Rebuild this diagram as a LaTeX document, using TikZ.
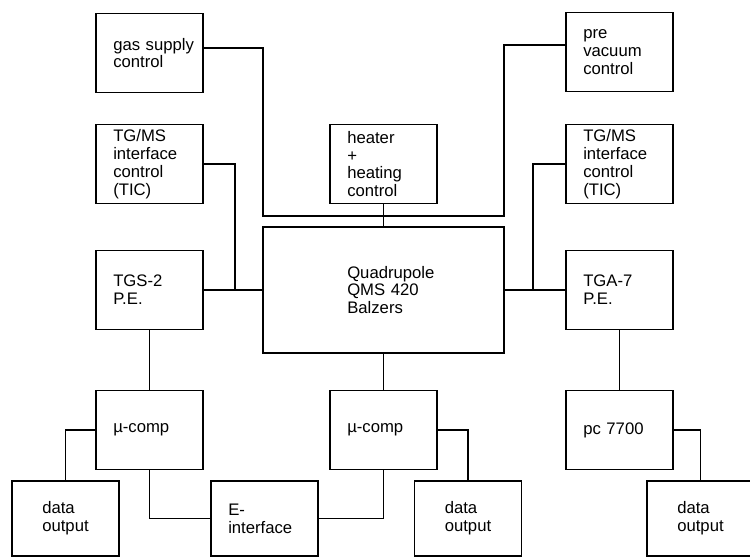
\documentclass[tikz,border=0pt]{standalone}
\usepackage{fontspec}
\setmainfont{Liberation Sans}

\tikzset{
  unit/.style={draw, line width=1pt, minimum width=2.14cm, minimum height=1.58cm,
    inner sep=0pt, align=left, font=\fontsize{9.5}{10.2}\selectfont},
  blk/.style={unit, text width=1.45cm},
  outbox/.style={unit, minimum height=1.5cm},
  wire/.style={line width=1pt}
}

\begin{document}
\begin{tikzpicture}
    \useasboundingbox (0,0) rectangle (15,-11.14);

    % Top row
    \node[blk] (gas) at (2.99,-1.06) {\mbox{gas supply}\\control};
    \node[blk] (prevac) at (12.39,-1.04) {pre\\vacuum\\control};

    % Interface controls and heater
    \node[blk] (ticL) at (2.99,-3.28) {TG/MS\\interface\\control\\(TIC)};
    \node[blk] (heater) at (7.67,-3.28) {heater\\+\\heating\\control};
    \node[blk] (ticR) at (12.39,-3.28) {TG/MS\\interface\\control\\(TIC)};

    % Thermobalances and quadrupole
    \node[blk] (tgs) at (2.99,-5.8) {TGS-2\\P.E.};
    \node[blk, minimum width=4.82cm, minimum height=2.52cm] (quad) at (7.67,-5.8)
      {\mbox{Quadrupole}\\\mbox{QMS 420}\\Balzers};
    \node[blk] (tga) at (12.39,-5.8) {TGA-7\\P.E.};

    % Computers
    \node[blk] (ucL) at (2.99,-8.6) {µ-comp};
    \node[blk] (ucM) at (7.67,-8.6) {µ-comp};
    \node[blk] (pc) at (12.39,-8.6) {\mbox{pc 7700}};

    % Outputs
    \node[outbox] (outL) at (1.31,-10.37) {data\\output};
    \node[blk, minimum height=1.5cm] (eint) at (5.29,-10.37) {E-\\interface};
    \node[outbox] (outM) at (9.36,-10.37) {data\\output};
    \node[outbox] (outR) at (14.01,-10.37) {data\\output};

    % Junctions
    \coordinate (busL) at (5.26,-4.32);
    \coordinate (busR) at (10.08,-4.32);
    \coordinate (jL) at (4.7,-5.8);
    \coordinate (jR) at (10.66,-5.8);

    % Connections
    \draw[wire] ([yshift=0.1cm]gas.east) -| (busL) -- (busR) |- ([yshift=0.14cm]prevac.west);
    \draw[wire] (heater) -- (quad);
    \draw[wire] (tgs) -- (quad);
    \draw[wire] (quad) -- (tga);
    \draw[wire] (ticL.east) -| (jL);
    \draw[wire] (ticR.west) -| (jR);
    \draw[wire] (tgs) -- (ucL);
    \draw[wire] (quad) -- (ucM);
    \draw[wire] (tga) -- (pc);
    \draw[wire] (ucL.west) -| (outL.north);
    \draw[wire] (ucL.south) |- (eint.west);
    \draw[wire] (eint.east) -| (ucM.south);
    \draw[wire] (ucM.east) -| (outM.north);
    \draw[wire] (pc.east) -| (outR.north);
\end{tikzpicture}
\end{document}
